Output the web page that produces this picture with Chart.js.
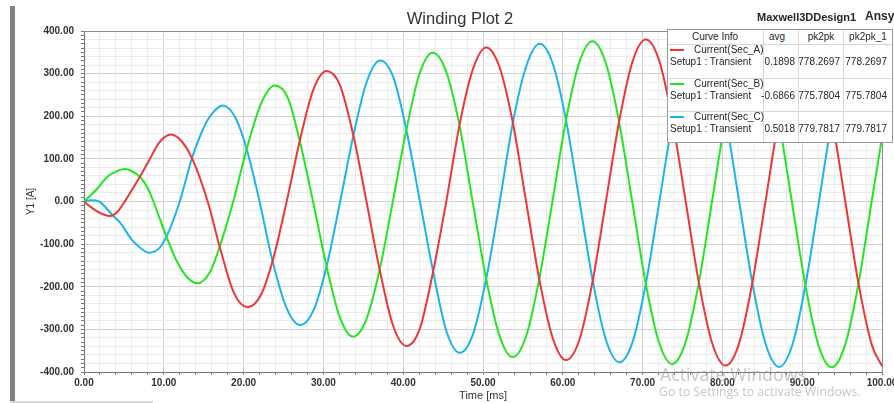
<!DOCTYPE html>
<html>
<head>
<meta charset="utf-8">
<script src="https://cdn.jsdelivr.net/npm/chart.js@4.4.0/dist/chart.umd.min.js"></script>
<style>
  body { margin: 0; background: #fff; }
  #wrap { position: relative; width: 894px; height: 403px; overflow: hidden; font-family: "Liberation Sans", Arial, sans-serif; }
  #plot { position: absolute; left: 0; top: 0; }
  .t { position: absolute; white-space: nowrap; color: #262626; transform: translateY(-50%); line-height: 1; }
  #info { position: absolute; left: 667px; top: 29px; width: 226px; height: 114px; background: #fff;
          border: 1px solid #9a9a9a; box-sizing: border-box; font-size: 10px; }
  #info .vl { position: absolute; top: 0; bottom: 0; width: 1px; background: #d8d8d8; }
  #info .hl { position: absolute; left: 0; right: 0; height: 1px; background: #d8d8d8; }
  #info .sw { position: absolute; width: 14px; height: 2px; }
  .r { text-align: right; }
  .c { text-align: center; }
</style>
</head>
<body>
<div id="wrap">
  <canvas id="plot" width="894" height="403"></canvas>
  <div style="position:absolute;left:10px;top:6px;width:5px;height:397px;background:#808080"></div>
  <div style="position:absolute;left:10px;top:401px;width:143px;height:2px;background:#d6d6d6"></div>
  <div class="t c" style="left:360px;width:200px;top:18px;font-size:16.5px;color:#333">Winding Plot 2</div>
  <div class="t" style="left:757px;top:17px;font-size:11px;font-weight:bold">Maxwell3DDesign1</div>
  <div class="t" style="left:865px;top:16px;font-size:12px;font-weight:bold">Ansys</div>
  <div id="info"></div>
  <div class="t" style="left:660px;top:375px;font-family:'Open Sans';font-size:17.8px;color:rgba(150,150,150,0.55)">Activate Windows</div>
  <div class="t" style="left:659px;top:392px;font-family:'Open Sans';font-size:12.3px;color:rgba(150,150,150,0.55)">Go to Settings to activate Windows.</div>
</div>
<script>
// Current(Sec_A) - red
const timeA = [0, 1.0, 2.1, 3.2, 4.2, 5.1, 6.0, 7.0, 8.2, 9.5, 10.9, 12.2, 13.6, 15.5, 17.0, 18.8, 20.5, 22.2, 23.6, 25.4,
  27.07, 28.73, 30.4, 32.07, 33.73, 35.4, 37.07, 38.73, 40.4, 42.07, 43.73, 45.4,
  47.07, 48.73, 50.4, 52.07, 53.73, 55.4, 57.07, 58.73, 60.4, 62.07, 63.73, 65.4,
  67.07, 68.73, 70.4, 72.07, 73.73, 75.4, 77.07, 78.73, 80.4, 82.07, 83.73, 85.4,
  87.07, 88.73, 90.4, 92.07, 93.73, 95.4, 97.07, 98.73, 100];
const currentA = [0, -15, -28, -34, -24, 0, 27, 58, 98, 140, 157, 142, 99, 0, -106, -215, -248, -218, -142, 0,
  145, 262, 306, 273, 157, 0, -162, -291, -339, -299, -166, 0,
  181, 310, 361, 315, 186, 0, -184, -320, -372, -325, -188, 0,
  189, 328, 380, 331, 191, 0, -192, -333, -385, -334, -193, 0,
  194, 336, 388, 336, 194, 0, -194, -337, -386];

// Current(Sec_B) - green
const timeB = [0, 1.5, 3.0, 4.0, 5.1, 6.0, 7.0, 7.95, 8.7, 10.2, 11.6, 12.9, 14.25, 15.8, 17.0, 18.7, 20.4, 22.2, 23.9,
  25.57, 27.0, 28.7, 30.37, 32.03, 33.7, 35.37, 37.03, 38.7,
  40.37, 42.03, 43.7, 45.37, 47.03, 48.7, 50.37, 52.03, 53.7, 55.37, 57.03, 58.7,
  60.37, 62.03, 63.7, 65.37, 67.03, 68.7, 70.37, 72.03, 73.7, 75.37, 77.03, 78.7,
  80.37, 82.03, 83.7, 85.37, 87.03, 88.7, 90.37, 92.03, 93.7, 95.37, 97.03, 98.7, 100];
const currentB = [0, 27, 59, 70, 76, 71, 58, 33, 0, -76, -139, -177, -192, -165, -106, 0, 124, 230, 272,
  242, 145, 0, -150, -270, -317, -277, -162, 0,
  165, 299, 349, 306, 181, 0, -179, -313, -365, -318, -184, 0,
  188, 324, 376, 326, 189, 0, -190, -329, -381, -331, -192, 0,
  193, 333, 386, 335, 194, 0, -194, -337, -389, -337, -195, 0, 150];

// Current(Sec_C) - blue
const timeC = [0, 0.9, 1.9, 3.6, 4.5, 6.0, 7.0, 8.1, 9.4, 10.4, 12.0, 13.5, 14.6, 15.7, 17.4, 19.07, 20.4, 22.0, 23.6,
  25.43, 27.1, 28.77, 30.43, 32.1,
  33.77, 35.43, 37.1, 38.77, 40.43, 42.1, 43.77, 45.43, 47.1, 48.77, 50.43, 52.1,
  53.77, 55.43, 57.1, 58.77, 60.43, 62.1, 63.77, 65.43, 67.1, 68.77, 70.43, 72.1,
  73.77, 75.43, 77.1, 78.77, 80.43, 82.1, 83.77, 85.43, 87.1, 88.77, 90.43, 92.1,
  93.77, 95.43, 97.1, 98.77, 100];
const currentC = [0, 3, 0, -33, -49, -90, -108, -120, -110, -80, 0, 100, 156, 197, 225, 193, 122, 0, -138,
  -252, -290, -255, -150, 0,
  156, 281, 331, 291, 165, 0, -166, -305, -355, -310, -179, 0,
  188, 318, 370, 322, 188, 0, -188, -326, -377, -328, -190, 0,
  191, 331, 383, 333, 192, 0, -193, -335, -388, -336, -194, 0,
  195, 337, 390, 338, 239];

const curveNames = ['Current(Sec_A)', 'Current(Sec_B)', 'Current(Sec_C)'];
const lineColors = ['#ee3636', '#22e622', '#1cb4f0'];
const avgVals = ['0.1898', '-0.6866', '0.5018'];
const pk2pkVals = ['778.2697', '775.7804', '779.7817'];
const infoHeaders = ['Curve Info', 'avg', 'pk2pk', 'pk2pk_1'];

const toPts = (t, v) => t.map((x, i) => ({ x: x, y: v[i] }));
const near = (v, step) => Math.abs(v / step - Math.round(v / step)) < 1e-6;

// top / right frame lines of the plot box
const frame = {
  id: 'frame',
  beforeDatasetsDraw(chart) {
    const a = chart.chartArea, ctx = chart.ctx;
    ctx.save();
    ctx.strokeStyle = '#8c8c8c';
    ctx.lineWidth = 1;
    ctx.beginPath();
    ctx.moveTo(a.left, a.top + 0.5);
    ctx.lineTo(a.right + 0.5, a.top + 0.5);
    ctx.lineTo(a.right + 0.5, a.bottom);
    ctx.stroke();
    ctx.restore();
  }
};

const tickFont = { family: 'Liberation Sans', size: 10, weight: 'bold' };

new Chart(document.getElementById('plot'), {
  type: 'line',
  data: {
    datasets: [
      { label: curveNames[0], data: toPts(timeA, currentA), borderColor: lineColors[0] },
      { label: curveNames[1], data: toPts(timeB, currentB), borderColor: lineColors[1] },
      { label: curveNames[2], data: toPts(timeC, currentC), borderColor: lineColors[2] }
    ]
  },
  options: {
    responsive: false,
    animation: false,
    layout: { padding: { top: 31, right: 12, left: 0, bottom: 0 } },
    elements: {
      point: { radius: 0 },
      line: { borderWidth: 2, cubicInterpolationMode: 'monotone', fill: false }
    },
    plugins: { legend: { display: false }, tooltip: { enabled: false } },
    scales: {
      x: {
        type: 'linear', min: 0, max: 100,
        ticks: {
          stepSize: 2, maxTicksLimit: 1000, autoSkip: false, maxRotation: 0,
          padding: 2, color: '#333', font: tickFont,
          callback: v => near(v, 10) ? v.toFixed(2) : ''
        },
        grid: {
          color: c => (c.tick && near(c.tick.value, 10)) ? '#d0d0d0' : '#ececec',
          tickColor: '#777', tickLength: 3
        },
        border: { color: '#777' },
        title: {
          display: true, text: 'Time [ms]', color: '#333',
          font: { family: 'Liberation Sans', size: 11 }, padding: { top: 0, bottom: 0 }
        },
        afterFit: s => { s.height = 31; s.paddingLeft = 0; s.paddingRight = 0; }
      },
      y: {
        min: -400, max: 400,
        ticks: {
          stepSize: 10, maxTicksLimit: 1000, autoSkip: false,
          padding: 7, color: '#333', font: tickFont,
          callback: v => near(v, 100) ? v.toFixed(2) : ''
        },
        grid: {
          color: c => {
            if (!c.tick) return 'rgba(0,0,0,0)';
            if (near(c.tick.value, 100)) return '#d0d0d0';
            if (near(c.tick.value, 20)) return '#ececec';
            return 'rgba(0,0,0,0)';
          },
          tickColor: '#777', tickLength: 3
        },
        border: { color: '#777' },
        title: {
          display: true, text: 'Y1 [A]', color: '#333',
          font: { family: 'Liberation Sans', size: 10 }, padding: { top: 25, bottom: 0 }
        },
        afterFit: s => { s.width = 84; s.paddingTop = 0; s.paddingBottom = 0; }
      }
    }
  },
  plugins: [frame]
});

// curve info box
const info = document.getElementById('info');
const colX = [95, 130, 175];
const rowY = [14, 48, 81];
let html = '';
colX.forEach(x => { html += '<div class="vl" style="left:' + x + 'px"></div>'; });
rowY.forEach(y => { html += '<div class="hl" style="top:' + y + 'px"></div>'; });
const headCx = [47, 109, 153, 200];
infoHeaders.forEach((h, i) => {
  html += '<div class="t c" style="left:' + (headCx[i] - 40) + 'px;width:80px;top:7px">' + h + '</div>';
});
curveNames.forEach((n, i) => {
  const top = rowY[i];
  html += '<div class="sw" style="left:2px;top:' + (top + 5) + 'px;background:' + lineColors[i] + '"></div>';
  html += '<div class="t" style="left:26px;top:' + (top + 6) + 'px">' + n + '</div>';
  html += '<div class="t" style="left:2px;top:' + (top + 17.5) + 'px">Setup1 : Transient</div>';
  html += '<div class="t r" style="left:67px;width:60px;top:' + (top + 17.5) + 'px">' + avgVals[i] + '</div>';
  html += '<div class="t r" style="left:112px;width:60px;top:' + (top + 17.5) + 'px">' + pk2pkVals[i] + '</div>';
  html += '<div class="t r" style="left:159px;width:60px;top:' + (top + 17.5) + 'px">' + pk2pkVals[i] + '</div>';
});
info.innerHTML = html;
</script>
</body>
</html>
